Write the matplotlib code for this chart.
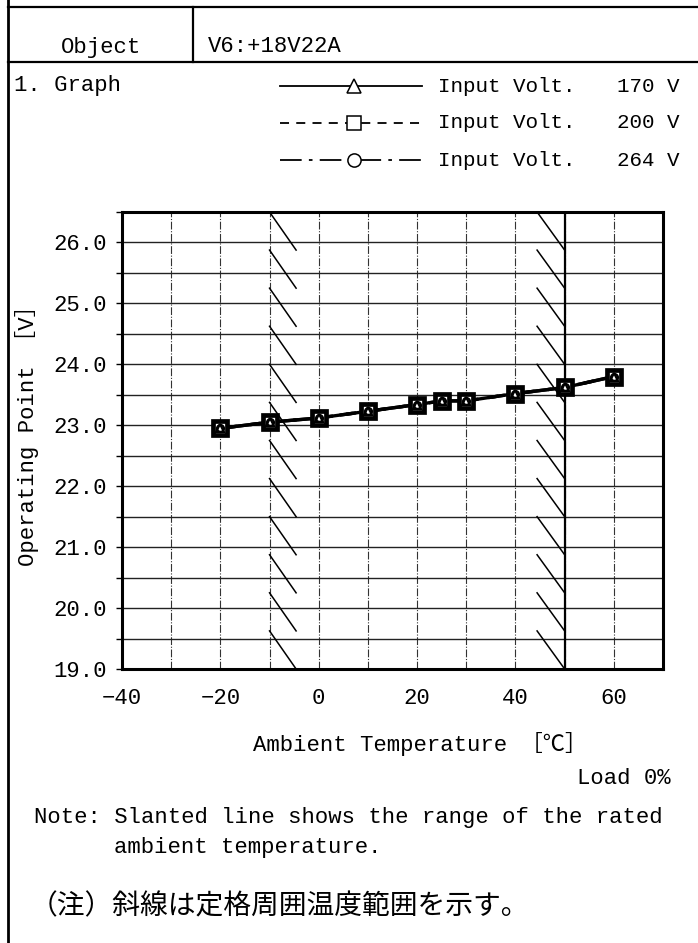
import matplotlib.pyplot as plt
from matplotlib.lines import Line2D

# ambient temperature [degC] and operating point [V] for each input voltage
temps = [-20, -10, 0, 10, 20, 25, 30, 40, 50, 60]
volt_170 = [22.95, 23.05, 23.12, 23.23, 23.34, 23.40, 23.40, 23.52, 23.62, 23.80]
volt_200 = [22.95, 23.05, 23.12, 23.23, 23.34, 23.40, 23.40, 23.52, 23.62, 23.80]
volt_264 = [22.95, 23.05, 23.12, 23.23, 23.34, 23.40, 23.40, 23.52, 23.62, 23.80]
input_volts = ['170 V', '200 V', '264 V']

# rated ambient temperature range (slanted lines)
rated_lo, rated_hi = -10, 50

x_ticks = list(range(-40, 71, 10))
y_ticks = [19 + 0.5 * i for i in range(16)]

FONT = ['Liberation Mono', 'Noto Sans CJK JP', 'DejaVu Sans']
plt.rcParams['font.family'] = FONT

W, H = 698, 943
fig = plt.figure(figsize=(W / 100, H / 100), dpi=100)


def fx(px):
    return px / W


def fy(py):
    return 1 - py / H


def hline(x0, x1, y, lw=1.6):
    fig.add_artist(Line2D([fx(x0), fx(x1)], [fy(y), fy(y)], color='black', lw=lw))


def vline(x, y0, y1, lw=1.6):
    fig.add_artist(Line2D([fx(x), fx(x)], [fy(y0), fy(y1)], color='black', lw=lw))


def label(x, y, s, ha='left', size=16, **kw):
    fig.text(fx(x), fy(y), s, ha=ha, va='center', fontsize=size, **kw)


# sheet frame
vline(8, 0, H, lw=2)
hline(8, W, 7)
hline(8, W, 62)
vline(193, 7, 62)

label(101, 47, 'Object', ha='center')
label(208, 47, 'V6:+18V22A')
label(14, 85, '1. Graph')

# legend
styles = [('-', '^'), ((0, (5, 4)), 's'), ((0, (12, 4, 2, 4)), 'o')]
for i, ((ls, mk), v) in enumerate(zip(styles, input_volts)):
    y = 86 + 37 * i
    fig.add_artist(Line2D([fx(280), fx(422)], [fy(y), fy(y)], color='black',
                          lw=1.3, linestyle=ls))
    fig.add_artist(Line2D([fx(354)], [fy(y)], marker=mk, markersize=9.5,
                          markerfacecolor='white', markeredgecolor='black',
                          markeredgewidth=1.1, linestyle='none'))
    label(438, y, 'Input Volt.', size=15)
    label(617, y, v, size=15)

# plot area
ax = fig.add_axes([fx(122), fy(669), (663 - 122) / W, (669 - 212) / H])
ax.set_xlim(-40, 70)
ax.set_ylim(19, 26.5)
ax.set_xticks(x_ticks)
ax.set_xticklabels([str(t).replace('-', '−') if t % 20 == 0 and t < 70 else ''
                    for t in x_ticks])
ax.set_yticks(y_ticks)
ax.set_yticklabels(['%.1f' % t if t == int(t) else '' for t in y_ticks])
ax.tick_params(axis='x', length=0, pad=14, labelsize=16)
ax.tick_params(axis='y', length=4, width=1, direction='out', pad=7, labelsize=16)
ax.grid(axis='y', color='#222222', lw=1.0)
ax.grid(axis='x', color='#333333', lw=0.8, linestyle=(0, (7, 1.5, 1, 1.5)))
for sp in ax.spines.values():
    sp.set_linewidth(2.2)

# slanted lines marking the rated range
ax.axvline(rated_hi, color='black', lw=1.6)
n_seg = 12
step = (26.5 - 19) / n_seg
for k in range(n_seg):
    top = 26.5 - k * step
    ax.plot([rated_lo, rated_lo + 5.4], [top, top - step], color='black', lw=1.1)
    ax.plot([rated_hi - 5.6, rated_hi], [top, top - step], color='black', lw=1.1)

for vals, (ls, mk) in zip([volt_170, volt_200, volt_264], styles):
    ax.plot(temps, vals, color='black', lw=2.4, linestyle=ls, zorder=4)
ax.plot(temps, volt_200, 's', markersize=10, markerfacecolor='white',
        markeredgecolor='black', markeredgewidth=3.4, zorder=5)
ax.plot(temps, volt_170, '^', markersize=6, markerfacecolor='none',
        markeredgecolor='black', markeredgewidth=1.6, zorder=6)
ax.plot(temps, volt_264, 'o', markersize=5, markerfacecolor='none',
        markeredgecolor='black', markeredgewidth=1.6, zorder=6)

label(27, 430, 'Operating Point ［V］', ha='center', rotation=90)
label(253, 744, 'Ambient Temperature ［℃］')
label(671, 778, 'Load 0%', ha='right')
label(34, 818, 'Note: Slanted line shows the range of the rated')
label(114, 847, 'ambient temperature.')
label(30, 907, '（注）斜線は定格周囲温度範囲を示す。', size=20)

fig.savefig('out.png', dpi=100)
